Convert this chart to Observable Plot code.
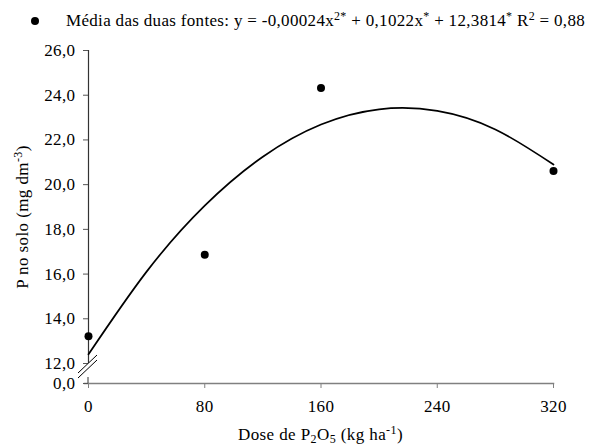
<!DOCTYPE html>
<html>
<head>
<meta charset="utf-8">
<script src="https://cdn.jsdelivr.net/npm/d3@7"></script>
<script src="https://cdn.jsdelivr.net/npm/@observablehq/plot@0.6"></script>
<style>
  html, body { margin: 0; padding: 0; background: white; }
  svg text { white-space: pre; letter-spacing: 0.4px; }
  svg text.legend { letter-spacing: 0.32px; }
</style>
</head>
<body>
<div id="chart"></div>
<script>
const doses = [0, 80, 160, 320];
const pSolo = [13.22, 16.87, 24.32, 20.61];

// Fitted curve at regular doses
const curveDose = [0, 40, 80, 120, 160, 200, 240, 280, 320];
const curveP = [12.41, 16.11, 19.06, 21.25, 22.69, 23.37, 23.30, 22.47, 20.90];

// Tick values
const xTicks = [0, 80, 160, 240, 320];
const yTicks = [0, 12, 14, 16, 18, 20, 22, 24, 26];

// Texts
const legendParts = [
  ["Média das duas fontes: y = -0,00024x", "n"], ["2*", "sup"],
  [" + 0,1022x", "n"], ["*", "sup"],
  [" + 12,3814", "n"], ["*", "sup"],
  [" R", "n"], ["2", "sup"], [" = 0,88", "n"]
];
const xTitleParts = [["Dose de P", "n"], ["2", "sub"], ["O", "n"], ["5", "sub"], [" (kg ha", "n"], ["-1", "sup"], [")", "n"]];
const yTitleParts = [["P no solo (mg dm", "n"], ["-3", "sup"], [")", "n"]];

const pts = doses.map((d, i) => ({dose: d, p: pSolo[i]}));
const curve = curveDose.map((d, i) => ({dose: d, p: curveP[i]}));
const fmt = d => d.toFixed(1).replace(".", ",");
const FONT = "'Liberation Serif', 'Times New Roman', serif";
const FS = 17, FS_SMALL = 12;

// broken axis: the 0–12 stretch is squeezed into a short gap below 12
const BREAK = 12, GAP = 0.894;
const squeeze = v => v >= BREAK ? v : BREAK - (BREAK - v) * GAP / BREAK;
const unsqueeze = u => u >= BREAK ? u : BREAK - (BREAK - u) * BREAK / GAP;
const yTickPos = yTicks.map(squeeze);

const chart = Plot.plot({
  width: 594,
  height: 447,
  marginLeft: 88,
  marginRight: 41,
  marginTop: 50,
  marginBottom: 64,
  style: {fontFamily: FONT, fontSize: FS + "px", color: "black", background: "white"},
  x: {domain: [0, 320]},
  y: {domain: [squeeze(0), 26], nice: false, zero: false},
  marks: [
    Plot.frame({anchor: "bottom", stroke: "#808080", strokeWidth: 1.5, insetLeft: -4}),
    Plot.ruleX([0], {y1: BREAK, y2: 26, stroke: "#333", strokeWidth: 1.2}),
    Plot.axisY({ticks: yTickPos, tickSize: 5, tickPadding: 8, tickFormat: u => fmt(Math.round(unsqueeze(u) * 10) / 10), label: null, stroke: "#555"}),
    Plot.axisX({ticks: xTicks, tickSize: 5, tickPadding: 11, tickFormat: d => String(d), label: null, stroke: "#808080"}),
    Plot.line(curve, {x: "dose", y: "p", curve: "natural", stroke: "black", strokeWidth: 1.7}),
    Plot.dot(pts, {x: "dose", y: "p", r: 4, fill: "black"})
  ]
});
document.getElementById("chart").appendChild(chart);

const svg = d3.select(chart);
const xs = chart.scale("x"), ys = chart.scale("y");

// Axis break marks
const bottom = ys.apply(squeeze(0));
const bx = xs.apply(0), by = ys.apply(BREAK) + 3;
const brk = svg.append("g");
brk.append("polygon")
  .attr("points", `${bx-10},${by+7} ${bx+9},${by-11} ${bx+9},${by-6} ${bx-10},${by+12}`)
  .attr("fill", "white");
brk.append("line").attr("x1", bx-10).attr("y1", by+7).attr("x2", bx+9).attr("y2", by-11).attr("stroke", "black");
brk.append("line").attr("x1", bx-10).attr("y1", by+12).attr("x2", bx+9).attr("y2", by-6).attr("stroke", "black");
svg.append("line").attr("x1", bx).attr("x2", bx).attr("y1", bottom - 6).attr("y2", bottom).attr("stroke", "#333");

function addParts(textSel, parts) {
  let shift = 0;
  for (const [s, kind] of parts) {
    const target = kind === "sup" ? -6 : kind === "sub" ? 3 : 0;
    textSel.append("tspan")
      .attr("dy", target - shift)
      .attr("font-size", kind === "n" ? FS : FS_SMALL)
      .text(s);
    shift = target;
  }
}

// Legend
const lg = svg.append("g").attr("font-family", FONT).attr("font-size", FS).attr("fill", "black");
lg.append("circle").attr("cx", 35).attr("cy", 21).attr("r", 4).attr("fill", "black");
addParts(lg.append("text").attr("class", "legend").attr("text-anchor", "start").attr("x", 66).attr("y", 26), legendParts);

// X title
addParts(svg.append("text").attr("font-family", FONT).attr("font-size", FS)
  .attr("text-anchor", "middle").attr("x", 320.5).attr("y", 440), xTitleParts);

// Y title
addParts(svg.append("text").attr("font-family", FONT).attr("font-size", FS)
  .attr("text-anchor", "middle").attr("transform", "translate(28,217) rotate(-90)"), yTitleParts);
</script>
</body>
</html>
